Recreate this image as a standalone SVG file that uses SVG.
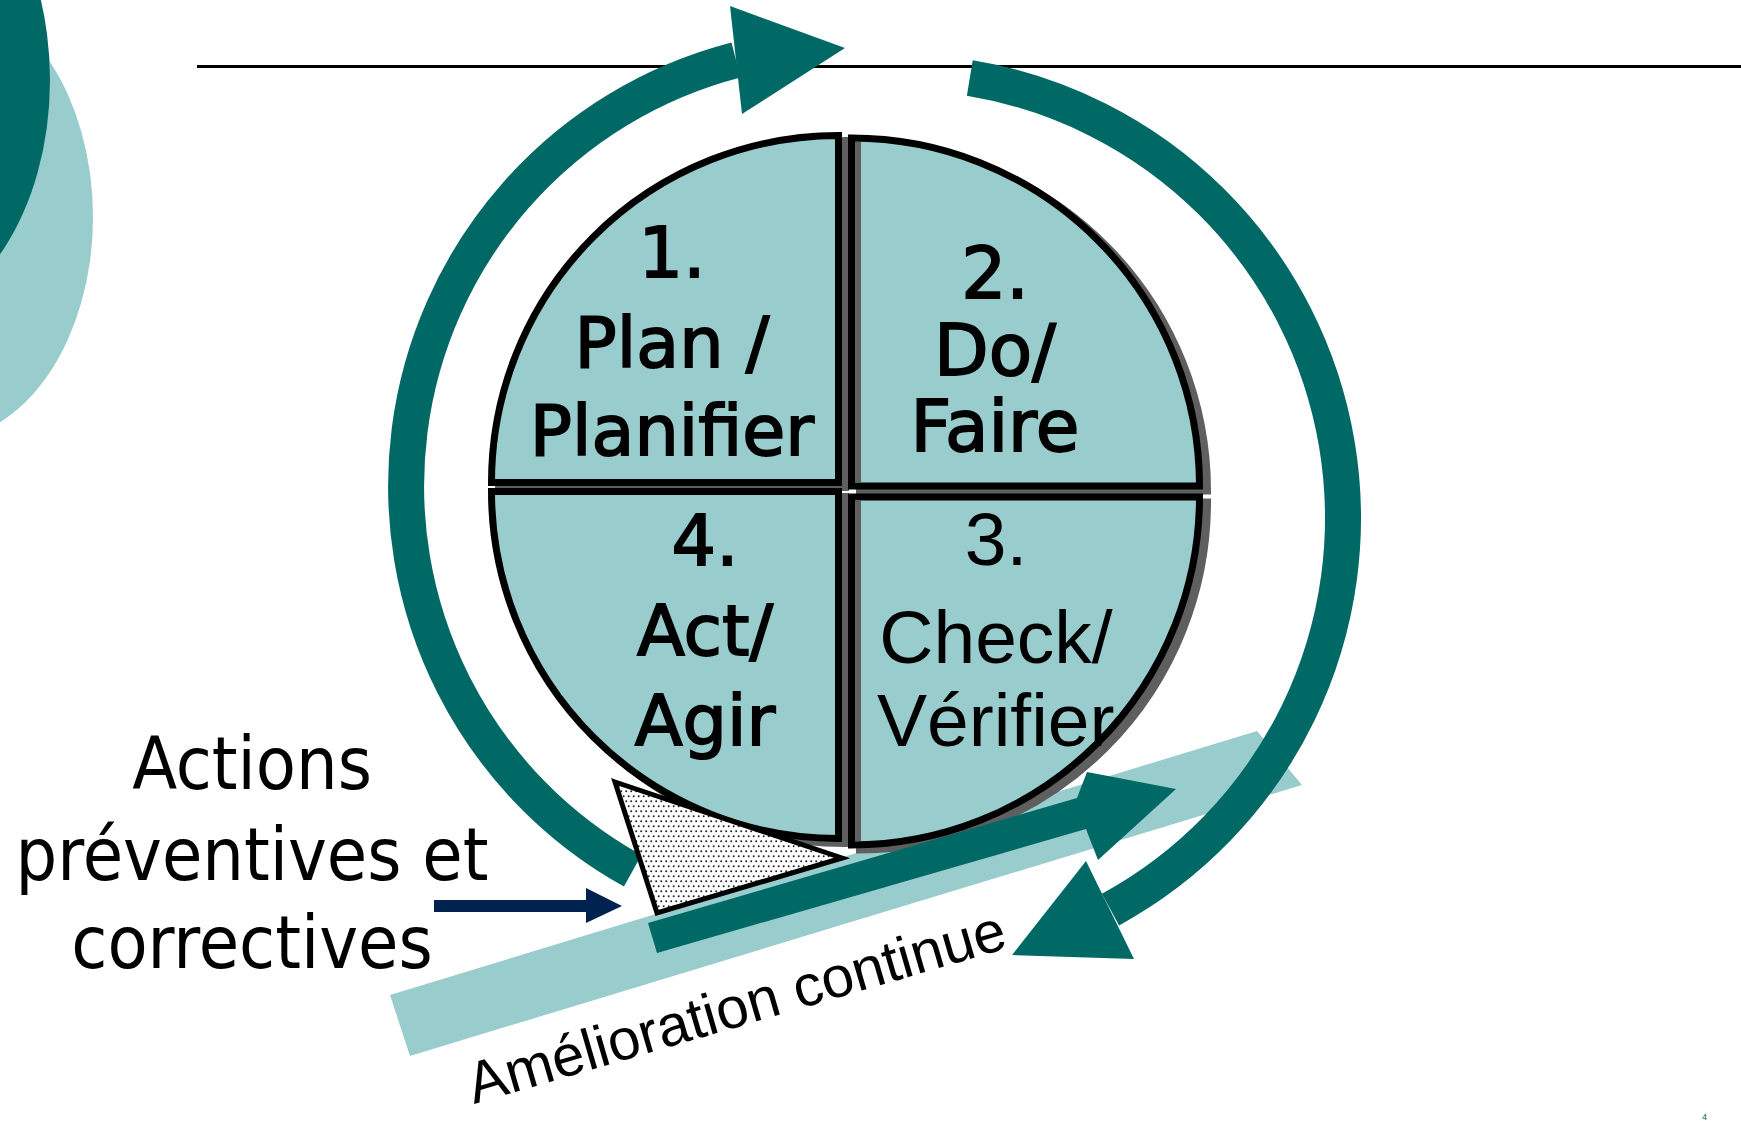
<svg xmlns="http://www.w3.org/2000/svg" width="1741" height="1122" viewBox="0 0 1741 1122">
  <style>
    .q { fill:#99CCCC; }
    .ol { fill:none; stroke:#000; stroke-width:7; stroke-linejoin:miter; }
    .sh { fill:#5F5F5F; stroke:#5F5F5F; stroke-width:7; }
    .gs { stroke:#5F5F5F; stroke-width:6; }
    .tb { font-family:'DejaVu Sans',Verdana,sans-serif; text-anchor:middle; fill:#000; stroke:#000; stroke-width:1.8; }
    .tc { font-family:'DejaVu Sans Condensed','DejaVu Sans',sans-serif; font-stretch:condensed; text-anchor:middle; fill:#000; font-size:73px; }
    .ta { font-family:'Liberation Sans',Arial,sans-serif; fill:#000; }
    .arc { fill:none; stroke:#006966; stroke-width:36; stroke-linecap:butt; }
    .dk { fill:#006966; }
    .lt { fill:#99CCCC; }
  </style>
  <defs>
    <pattern id="dots" width="5" height="10" patternUnits="userSpaceOnUse">
      <rect width="5" height="10" fill="#FFFFFF"/>
      <circle cx="1.2" cy="1.2" r="1" fill="#222"/>
      <circle cx="3.7" cy="6.2" r="1" fill="#222"/>
    </pattern>
  </defs>

  <!-- background decoration -->
  <g id="decor">
    <ellipse cx="-60" cy="217" rx="153" ry="223" class="lt"/>
    <ellipse cx="-110" cy="80" rx="160" ry="240" class="dk"/>
    <line x1="197" y1="66.5" x2="1741" y2="66.5" stroke="#000" stroke-width="3"/>
  </g>

  <!-- improvement band -->
  <g id="band">
    <polygon class="lt" points="390,995 1257,731 1302,785 410,1056"/>
  </g>

  <!-- cycle arrows -->
  <g id="connectors">
    <path class="arc" d="M632.7,870.8 A440,440 0 0 1 736,60"/>
    <polygon class="dk" points="730,6 845,48 742,114"/>
    <path class="arc" d="M969.8,78 A446,446 0 0 1 1110.5,909.6"/>
    <polygon class="dk" points="1086,861 1012,955 1134,959"/>
  </g>

  <!-- PDCA wheel -->
  <g id="q1-plan">
    <path class="sh" d="M845.5,487.5 V140.5 A347,347 0 0 0 498.5,487.5 Z"/>
    <path class="q" d="M838.5,482.5 V135.5 A347,347 0 0 0 491.5,482.5 Z"/>
    <text class="tb" font-size="70" x="672" y="277">1.</text>
    <text class="tb" font-size="70" x="672" y="367">Plan /</text>
    <text class="tb" font-size="70" x="672" y="455">Planifier</text>
    <path class="ol" d="M838.5,482.5 V135.5 A347,347 0 0 0 491.5,482.5 Z"/>
  </g>
  <g id="q2-do">
    <path class="sh" d="M859.5,491 V143 A348,348 0 0 1 1207.5,491 Z"/>
    <path class="q" d="M851.5,486 V138 A348,348 0 0 1 1199.5,486 Z"/>
    <line class="gs" x1="858" y1="142" x2="858" y2="482"/>
    <text class="tb" font-size="71" stroke-width="1.3" x="995" y="298">2.</text>
    <text class="tb" font-size="71" stroke-width="1.3" x="995" y="375">Do/</text>
    <text class="tb" font-size="71" stroke-width="1.3" x="995" y="451">Faire</text>
    <path class="ol" d="M851.5,486 V138 A348,348 0 0 1 1199.5,486 Z"/>
  </g>
  <g id="q4-act">
    <path class="sh" d="M845.5,496.5 V843.5 A347,347 0 0 1 498.5,496.5 Z"/>
    <path class="q" d="M838.5,491.5 V838.5 A347,347 0 0 1 491.5,491.5 Z"/>
    <text class="tb" font-size="70" x="705" y="565">4.</text>
    <text class="tb" font-size="70" x="705" y="655">Act/</text>
    <text class="tb" font-size="70" x="705" y="745">Agir</text>
    <path class="ol" d="M838.5,491.5 V838.5 A347,347 0 0 1 491.5,491.5 Z"/>
  </g>
  <g id="q3-check">
    <path class="sh" d="M859.5,502 H1207.5 A348,348 0 0 1 859.5,850 Z"/>
    <path class="q" d="M851.5,497 H1199.5 A348,348 0 0 1 851.5,845 Z"/>
    <line class="gs" x1="858" y1="501" x2="858" y2="841"/>
    <text class="ta" font-size="75" text-anchor="middle" x="996" y="565">3.</text>
    <text class="ta" font-size="75" text-anchor="middle" x="996" y="663">Check/</text>
    <text class="ta" font-size="75" x="877" y="746">Vérifier</text>
    <path class="ol" d="M851.5,497 H1199.5 A348,348 0 0 1 851.5,845 Z"/>
  </g>

  <!-- improvement arrow -->
  <g id="improvement-arrow">
    <polygon class="dk" points="648,923 1077,798 1087,772 1176,789 1098,860 1086,829 657,953"/>
  </g>

  <!-- wedge -->
  <g id="wedge">
    <polygon points="615,782 842,858 657,913" fill="url(#dots)" stroke="#000" stroke-width="5" stroke-linejoin="miter"/>
  </g>

  <!-- actions label and pointer -->
  <g id="label-actions">
    <text class="tc" x="252" y="789">Actions</text>
    <text class="tc" x="252" y="880">préventives et</text>
    <text class="tc" x="252" y="968">correctives</text>
  </g>
  <g id="pointer">
    <polygon fill="#00224F" points="434,900 586,900 586,888 622,906 586,923 586,912 434,912"/>
  </g>

  <g id="label-amelioration">
    <text class="ta" font-size="58" transform="translate(474,1104) rotate(-16.3)">Amélioration continue</text>
  </g>

  <g id="page-number">
    <text x="1702" y="1120" font-family="'Liberation Sans',Arial,sans-serif" font-size="9" fill="#006966">4</text>
  </g>
</svg>
